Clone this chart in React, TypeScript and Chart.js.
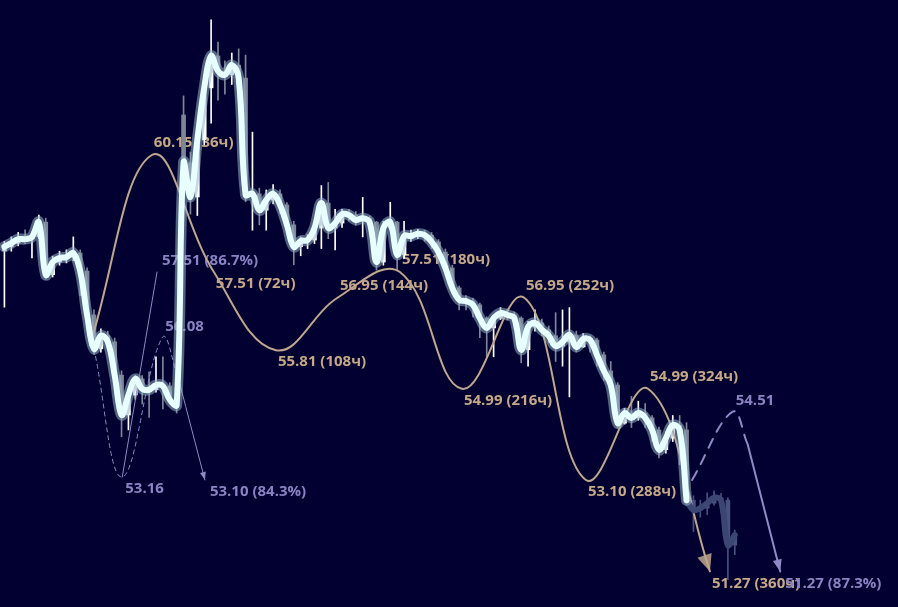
import React, { useEffect, useRef } from "react";
import { Chart, registerables } from "chart.js";

Chart.register(...registerables);

// ---- price candles (4h) ----
const closes = [
  58.07, 58.15, 58.24, 58.24, 58.29, 58.62, 57.45, 57.73, 57.82, 57.84,
  57.93, 57.53, 56.57, 55.84, 56.12, 55.99, 55.28, 54.44, 54.86, 55.20,
  54.99, 54.97, 55.07, 55.05, 54.76, 54.65, 59.97, 59.19, 60.50, 61.72,
  62.48, 62.12, 62.03, 62.26, 61.95, 59.24, 59.26, 58.89, 59.12, 59.26,
  59.01, 58.56, 58.07, 58.20, 58.22, 58.49, 59.05, 58.49, 58.60, 58.80,
  58.78, 58.67, 58.71, 58.62, 57.73, 58.49, 58.62, 57.89, 58.31, 58.31,
  58.36, 58.33, 58.18, 57.95, 57.60, 57.16, 56.90, 56.87, 56.79, 56.50,
  56.29, 56.50, 56.61, 56.57, 56.50, 55.82, 56.31, 56.40, 56.25, 56.12,
  55.90, 55.99, 56.14, 55.88, 56.05, 56.03, 55.71, 55.37, 55.07, 54.27,
  54.48, 54.38, 54.48, 54.38, 54.13, 53.72, 53.96, 54.23, 54.13, 52.69,
  52.49, 52.53, 52.63, 52.74, 52.69, 51.79, 51.99,
];
const opens = [
  57.98, 58.07, 58.15, 58.31, 58.24, 58.29, 58.62, 57.45, 57.73, 57.82,
  57.84, 57.93, 57.53, 56.57, 55.84, 56.12, 55.99, 55.28, 54.44, 54.86,
  55.20, 54.99, 54.97, 55.07, 55.05, 54.76, 61.08, 59.97, 59.19, 60.50,
  61.72, 62.48, 62.12, 62.03, 62.26, 61.95, 59.24, 59.26, 58.89, 59.12,
  59.26, 59.01, 58.56, 58.07, 58.20, 58.22, 58.49, 59.05, 58.49, 58.60,
  58.80, 58.78, 58.67, 58.71, 58.62, 57.73, 58.49, 58.62, 57.89, 58.25,
  58.31, 58.36, 58.33, 58.18, 57.95, 57.60, 57.16, 56.90, 56.87, 56.79,
  56.50, 56.29, 56.50, 56.61, 56.57, 56.50, 55.82, 56.31, 56.40, 56.25,
  56.12, 55.90, 55.99, 56.14, 55.88, 56.05, 56.03, 55.71, 55.37, 55.07,
  54.27, 54.48, 54.38, 54.48, 54.38, 54.13, 53.72, 53.96, 54.23, 54.13,
  52.69, 52.49, 52.53, 52.63, 52.74, 52.69, 51.79,
];
const highs = [
  58.19, 58.29, 58.39, 58.45, 58.40, 58.78, 58.71, 57.86, 57.97, 58.00,
  58.29, 58.00, 57.60, 56.68, 56.27, 56.22, 56.07, 55.37, 54.97, 55.27,
  55.27, 55.35, 55.67, 55.67, 55.12, 54.97, 61.53, 60.22, 60.60, 61.90,
  63.35, 62.81, 62.36, 62.55, 62.65, 62.50, 60.68, 59.39, 59.35, 59.47,
  59.35, 59.06, 58.64, 58.29, 58.34, 58.60, 59.45, 59.52, 58.91, 58.91,
  58.91, 58.86, 59.18, 58.76, 58.64, 58.64, 59.07, 58.64, 58.64, 58.44,
  58.46, 58.44, 58.39, 58.23, 58.02, 57.66, 57.20, 56.99, 56.94, 56.83,
  56.53, 56.58, 56.73, 56.70, 56.63, 56.53, 56.43, 56.68, 56.48, 56.33,
  56.62, 56.68, 56.73, 56.22, 56.17, 56.12, 56.07, 55.77, 55.57, 55.12,
  54.58, 54.83, 54.73, 54.68, 54.43, 54.19, 54.09, 54.43, 54.43, 54.28,
  52.78, 52.69, 52.84, 52.88, 52.83, 52.74, 52.09,
];
const lows = [
  56.74, 57.97, 58.09, 58.14, 57.82, 58.25, 57.35, 57.40, 57.66, 57.71,
  57.76, 56.99, 56.42, 55.72, 55.77, 55.87, 55.17, 53.99, 54.13, 54.77,
  54.67, 54.39, 54.92, 54.57, 54.67, 54.48, 58.97, 58.80, 58.77, 60.38,
  60.89, 61.43, 61.57, 61.80, 61.57, 59.08, 58.44, 58.56, 58.44, 59.03,
  58.81, 58.39, 57.67, 57.87, 58.03, 58.14, 58.03, 58.25, 58.00, 58.50,
  58.65, 58.55, 58.29, 58.34, 57.55, 57.66, 58.44, 57.55, 57.81, 58.19,
  58.25, 58.19, 58.03, 57.71, 57.45, 57.04, 56.68, 56.68, 56.53, 56.08,
  55.67, 55.67, 56.47, 56.47, 56.27, 55.54, 55.47, 56.22, 56.12, 55.97,
  55.57, 55.47, 54.82, 55.77, 55.87, 55.77, 55.47, 55.17, 54.97, 54.17,
  54.25, 54.18, 54.33, 54.18, 53.89, 53.55, 53.65, 53.89, 53.41, 52.58,
  52.06, 52.35, 52.40, 52.59, 52.45, 51.11, 51.60,
];
const lastLiveCandle = 99; // candles after this are shown faded

// ---- tan cycle forecast (hours from start) ----
const forecastStart = 12.4; // candle index where the forecast begins
const hoursPerCandle = 4;
const tanHours = [0, 36, 72, 108, 144, 180, 216, 252, 288, 324, 360];
const tanValues = [55.92, 60.15, 57.51, 55.81, 56.95, 57.51, 54.99, 56.95, 53.10, 54.99, 51.27];

// ---- purple cycle projections ----
const cycleADashX = [13.0, 17.1, 22.9, 25.3];
const cycleADashY = [55.84, 53.16, 56.08, 55.18];
const cycleAArrowX = [25.3, 29.1];
const cycleAArrowY = [55.18, 53.10];
const cycleATargetX = [17.1, 22.15];
const cycleATargetY = [53.16, 57.51];
const cycleBDashX = [99.8, 105.7, 107.9];
const cycleBDashY = [53.10, 54.51, 53.82];
const cycleBArrowX = [107.9, 112.6];
const cycleBArrowY = [53.82, 51.27];

const purpleLabelX = [17.1, 22.9, 22.15, 29.1, 105.7, 112.6];
const purpleLabelY = [53.16, 56.08, 57.51, 53.10, 54.51, 51.27];
const purpleLabelText = ["53.16", "56.08", "57.51 (86.7%)", "53.10 (84.3%)", "54.51", "51.27 (87.3%)"];
const purpleLabelAbove = [false, true, true, false, true, false];

// ---- styling ----
const BG = "#020030";
const TAN_LINE = "#BFA68C";
const TAN_TEXT = "#C6A886";
const PURPLE_LINE = "#8F89C8";
const PURPLE_TEXT = "#8A82C2";
const WHITE_LINE = "#E8FFFF";
const GLOW = "rgba(150,178,200,0.55)";
const CANDLE_UP = "#FFFFFF";
const CANDLE_DOWN = "#7D8797";
const FADED_BODY = "#47517E";
const FADED_LINE = "#3C4673";
const FONT = 'bold 15px "Open Sans"';

const X_MIN = -0.64;
const X_MAX = 129.69;
const Y_MIN = 50.575;
const Y_MAX = 63.835;

function pts(xs: number[], ys: number[]) {
  return xs.map((x, i) => ({ x, y: ys[i] }));
}

function candleColor(i: number) {
  if (i > lastLiveCandle) return FADED_BODY;
  return closes[i] >= opens[i] ? CANDLE_UP : CANDLE_DOWN;
}

function drawArrow(ctx: CanvasRenderingContext2D, el: any, prev: any, len: number, width: number, color: string) {
  let fx = el.cp1x, fy = el.cp1y;
  if (fx === undefined || (Math.abs(fx - el.x) < 0.01 && Math.abs(fy - el.y) < 0.01)) {
    fx = prev.x; fy = prev.y;
  }
  const a = Math.atan2(el.y - fy, el.x - fx);
  ctx.save();
  ctx.translate(el.x, el.y);
  ctx.rotate(a);
  ctx.beginPath();
  ctx.moveTo(0, 0);
  ctx.lineTo(-len, width / 2);
  ctx.lineTo(-len, -width / 2);
  ctx.closePath();
  ctx.fillStyle = color;
  ctx.fill();
  ctx.restore();
}

const overlayPlugin = {
  id: "overlay",
  beforeDatasetsDraw(chart: any) {
    const { ctx } = chart;
    const xs = chart.scales.x;
    const ys = chart.scales.y;
    ctx.save();
    ctx.font = FONT;
    ctx.textBaseline = "middle";
    ctx.textAlign = "left";
    ctx.fillStyle = TAN_TEXT;
    tanHours.forEach((h, k) => {
      if (k === 0) return;
      const px = xs.getPixelForValue(forecastStart + h / hoursPerCandle);
      const py = ys.getPixelForValue(tanValues[k]);
      const up = tanValues[k] > tanValues[k - 1];
      ctx.fillText(`${tanValues[k].toFixed(2)} (${h}ч)`, px + 2, py + (up ? -12 : 12));
    });
    ctx.fillStyle = PURPLE_TEXT;
    purpleLabelText.forEach((t, k) => {
      const px = xs.getPixelForValue(purpleLabelX[k]);
      const py = ys.getPixelForValue(purpleLabelY[k]);
      const long = t.includes("%");
      ctx.fillText(t, px + (long ? 5 : 3), py + (purpleLabelAbove[k] ? -11 : 12));
    });
    ctx.restore();
  },
  afterDatasetsDraw(chart: any) {
    const { ctx } = chart;
    const find = (label: string) => chart.data.datasets.findIndex((d: any) => d.label === label);
    const arrowFor = (label: string, len: number, w: number, color: string) => {
      const meta = chart.getDatasetMeta(find(label));
      const n = meta.data.length;
      drawArrow(ctx, meta.data[n - 1], meta.data[n - 2], len, w, color);
    };
    arrowFor("tan", 17, 15, "rgba(191,166,140,0.85)");
    arrowFor("cycleAArrow", 8, 6, PURPLE_LINE);
    arrowFor("cycleBArrow", 12, 9, PURPLE_LINE);
  },
};

export default function App() {
  const ref = useRef<HTMLCanvasElement | null>(null);

  useEffect(() => {
    document.body.style.margin = "0";
    document.body.style.background = BG;
    const canvas = ref.current!;
    const idx = closes.map((_, i) => i);

    const wickData = idx.map((i) => ({ x: i, y: [lows[i], highs[i]] }));
    const bodyData = idx.map((i) => ({ x: i, y: [opens[i], closes[i]] }));
    const liveLine = idx.filter((i) => i <= lastLiveCandle).map((i) => ({ x: i, y: closes[i] }));
    const fadedLine = idx.filter((i) => i >= lastLiveCandle).map((i) => ({ x: i, y: closes[i] }));
    const tanLine = tanHours.map((h, k) => ({ x: forecastStart + h / hoursPerCandle, y: tanValues[k] }));

    const lineBase = {
      type: "line" as const,
      pointRadius: 0,
      pointHoverRadius: 0,
      fill: false,
      tension: 0.4,
      borderCapStyle: "round" as const,
      borderJoinStyle: "round" as const,
    };

    const chart = new Chart(canvas, {
      type: "line",
      data: {
        datasets: [
          { ...lineBase, label: "live", data: liveLine, borderColor: WHITE_LINE, borderWidth: 6, order: 0 },
          { ...lineBase, label: "glow", data: liveLine, borderColor: GLOW, borderWidth: 11, order: 1 },
          { ...lineBase, label: "faded", data: fadedLine, borderColor: FADED_LINE, borderWidth: 6, order: 2 },
          { ...lineBase, label: "cycleADash", data: pts(cycleADashX, cycleADashY), borderColor: PURPLE_LINE, borderWidth: 1, borderDash: [4, 4], order: 3 },
          { ...lineBase, label: "cycleAArrow", data: pts(cycleAArrowX, cycleAArrowY), borderColor: PURPLE_LINE, borderWidth: 1, order: 3 },
          { ...lineBase, label: "cycleATarget", data: pts(cycleATargetX, cycleATargetY), borderColor: PURPLE_LINE, borderWidth: 1, order: 3 },
          { ...lineBase, label: "cycleBDash", data: pts(cycleBDashX, cycleBDashY), borderColor: PURPLE_LINE, borderWidth: 2, borderDash: [10, 8], order: 3 },
          { ...lineBase, label: "cycleBArrow", data: pts(cycleBArrowX, cycleBArrowY), borderColor: PURPLE_LINE, borderWidth: 2, order: 3 },
          { ...lineBase, label: "tan", data: tanLine, borderColor: TAN_LINE, borderWidth: 2, order: 4 },
          {
            type: "bar",
            label: "bodies",
            data: bodyData as any,
            backgroundColor: idx.map(candleColor),
            barThickness: 4,
            minBarLength: 1,
            grouped: false,
            order: 5,
          } as any,
          {
            type: "bar",
            label: "wicks",
            data: wickData as any,
            backgroundColor: idx.map(candleColor),
            barThickness: 1,
            grouped: false,
            order: 6,
          } as any,
        ],
      },
      options: {
        animation: false,
        responsive: false,
        devicePixelRatio: 1,
        maintainAspectRatio: false,
        layout: { padding: 0 },
        events: [],
        plugins: { legend: { display: false }, tooltip: { enabled: false } },
        scales: {
          x: { type: "linear", min: X_MIN, max: X_MAX, display: false, offset: false, grid: { offset: false } },
          y: { type: "logarithmic", min: Y_MIN, max: Y_MAX, display: false },
        },
      },
      plugins: [overlayPlugin],
    });
    return () => chart.destroy();
  }, []);

  return (
    <div style={{ width: 898, height: 607, background: BG, overflow: "hidden" }}>
      <canvas ref={ref} width={898} height={607} style={{ display: "block" }} />
    </div>
  );
}
